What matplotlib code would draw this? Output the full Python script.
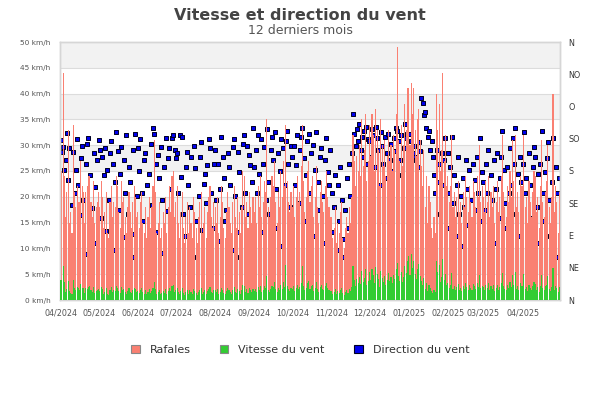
import matplotlib
matplotlib.use("Agg")
import matplotlib.pyplot as plt
import matplotlib.dates as mdates
from matplotlib.patches import Rectangle
import pandas as pd
import numpy as np

# ---------------- data (daily, 04/2024 -> 04/2025) ----------------
raf_2024_04 = [25, 25, 44, 24, 16, 21, 33, 15, 17, 13, 34, 21, 18, 22, 19, 19, 27, 22, 21, 15, 21, 22, 24, 24, 19, 16, 23, 15, 18, 19]
raf_2024_05 = [21, 18, 23, 20, 14, 17, 21, 13, 12, 19, 22, 16, 19, 18, 24, 22, 17, 14, 23, 19, 20, 16, 13, 18, 21, 17, 14, 19, 22, 20, 16]
raf_2024_06 = [17, 14, 19, 21, 15, 13, 18, 12, 16, 20, 14, 18, 22, 31, 21, 13, 15, 19, 12, 14, 17, 15, 20, 13, 18, 22, 17, 24, 25, 16]
raf_2024_07 = [19, 22, 15, 12, 17, 21, 14, 11, 16, 19, 13, 18, 15, 12, 20, 17, 14, 11, 16, 19, 21, 13, 15, 18, 12, 17, 20, 22, 16, 14, 19]
raf_2024_08 = [18, 15, 20, 13, 16, 22, 19, 14, 12, 17, 21, 18, 15, 13, 19, 22, 16, 14, 20, 17, 13, 18, 25, 24, 16, 19, 14, 21, 18, 15, 20]
raf_2024_09 = [17, 20, 15, 22, 18, 24, 16, 19, 23, 21, 35, 18, 16, 20, 24, 22, 27, 19, 15, 21, 18, 25, 20, 27, 22, 34, 23, 19, 17, 21]
raf_2024_10 = [18, 22, 16, 20, 24, 19, 21, 26, 34, 23, 17, 20, 25, 27, 19, 22, 24, 16, 20, 26, 18, 15, 21, 23, 19, 17, 22, 25, 20, 18, 16]
raf_2024_11 = [16, 12, 14, 18, 11, 15, 13, 17, 19, 12, 10, 14, 16, 13, 18, 15, 20, 32, 27, 22, 28, 25, 30, 24, 35, 26, 29, 36, 23, 27]
raf_2024_12 = [34, 28, 36, 32, 25, 37, 33, 29, 22, 35, 30, 26, 31, 24, 28, 33, 27, 30, 25, 32, 29, 36, 49, 31, 27, 34, 26, 30, 38, 33, 41]
raf_2025_01 = [41, 30, 42, 36, 41, 33, 28, 35, 37, 31, 26, 22, 29, 18, 24, 15, 22, 19, 14, 12, 16, 13, 40, 33, 38, 25, 29, 44, 27, 32, 22]
raf_2025_02 = [24, 19, 22, 32, 18, 21, 16, 20, 23, 17, 19, 15, 21, 18, 24, 20, 17, 22, 19, 16, 23, 21, 18, 24, 20, 30, 19, 22]
raf_2025_03 = [20, 17, 23, 19, 24, 16, 21, 18, 22, 15, 19, 23, 17, 20, 24, 32, 21, 18, 16, 22, 19, 25, 20, 31, 23, 32, 18, 21, 17, 24, 22]
raf_2025_04 = [22, 32, 18, 20, 15, 23, 19, 16, 21, 25, 24, 17, 20, 14, 22, 31, 19, 16, 21, 23, 30, 18, 15, 20, 40, 17, 22, 19, 13, 21]

vit_2024_04 = [3.9, 3.8, 6.6, 3.5, 1.6, 2.2, 3.6, 1.8, 1.4, 1.2, 3.9, 2.4, 1.9, 2.5, 2.3, 2.0, 3.1, 2.3, 2.4, 1.3, 2.3, 2.1, 2.6, 2.8, 1.9, 1.6, 2.5, 1.4, 1.7, 2.0]
vit_2024_05 = [2.2, 1.8, 2.6, 2.1, 1.2, 1.6, 2.4, 1.1, 1.0, 2.0, 2.5, 1.5, 2.0, 1.8, 2.7, 2.4, 1.7, 1.3, 2.6, 2.0, 2.2, 1.5, 1.2, 1.8, 2.3, 1.6, 1.3, 1.9, 2.4, 2.1, 1.5]
vit_2024_06 = [1.7, 1.3, 2.0, 2.3, 1.5, 1.2, 1.9, 1.1, 1.6, 2.1, 1.3, 1.8, 2.4, 3.4, 2.2, 1.2, 1.5, 2.0, 1.1, 1.3, 1.7, 1.4, 2.1, 1.2, 1.8, 2.4, 1.7, 2.7, 2.9, 1.6]
vit_2024_07 = [2.0, 2.4, 1.5, 1.1, 1.7, 2.3, 1.3, 1.0, 1.6, 2.0, 1.2, 1.9, 1.5, 1.1, 2.2, 1.7, 1.4, 1.0, 1.6, 2.0, 2.3, 1.2, 1.5, 1.9, 1.1, 1.7, 2.2, 2.5, 1.6, 1.4, 2.0]
vit_2024_08 = [1.9, 1.5, 2.2, 1.2, 1.6, 2.4, 2.0, 1.3, 1.1, 1.7, 2.3, 1.9, 1.5, 1.2, 2.0, 2.5, 1.6, 1.3, 2.2, 1.8, 1.2, 1.9, 3.0, 2.8, 1.6, 2.1, 1.3, 2.3, 1.9, 1.5, 2.2]
vit_2024_09 = [1.8, 2.2, 1.5, 2.5, 1.9, 2.8, 1.6, 2.0, 2.7, 2.3, 4.6, 1.9, 1.6, 2.2, 2.8, 2.5, 3.4, 2.1, 1.5, 2.4, 1.9, 3.0, 2.2, 3.5, 2.6, 6.7, 2.8, 2.1, 1.8, 2.4]
vit_2024_10 = [2.1, 2.7, 1.7, 2.3, 3.0, 2.2, 2.5, 3.3, 6.6, 2.8, 1.9, 2.3, 3.2, 3.6, 2.2, 2.7, 3.0, 1.8, 2.4, 3.4, 2.1, 1.6, 2.6, 2.9, 2.2, 1.9, 2.7, 3.2, 2.4, 2.0, 1.8]
vit_2024_11 = [1.8, 1.2, 1.5, 2.1, 1.1, 1.7, 1.4, 2.0, 2.3, 1.3, 1.0, 1.6, 1.9, 1.4, 2.2, 1.7, 2.5, 6.5, 3.8, 2.8, 4.0, 3.3, 4.5, 3.1, 5.6, 3.5, 4.2, 6.0, 2.9, 3.7]
vit_2024_12 = [5.4, 3.9, 6.1, 4.8, 3.2, 6.3, 5.0, 4.0, 2.6, 5.7, 4.3, 3.4, 4.6, 3.0, 3.9, 5.2, 3.6, 4.4, 3.2, 4.9, 4.1, 6.0, 7.2, 4.7, 3.7, 5.5, 3.4, 4.4, 6.5, 5.3, 7.5]
vit_2025_01 = [8.5, 4.8, 8.9, 6.2, 7.6, 5.1, 4.0, 6.0, 6.9, 4.7, 3.6, 2.9, 4.3, 2.2, 3.3, 1.8, 3.0, 2.4, 1.7, 1.4, 2.0, 1.6, 7.5, 5.4, 6.8, 3.5, 4.4, 7.9, 3.8, 5.0, 2.9]
vit_2025_02 = [3.2, 2.3, 2.9, 5.3, 2.2, 2.7, 1.9, 2.5, 3.1, 2.0, 2.4, 1.8, 2.7, 2.2, 3.3, 2.5, 2.0, 2.9, 2.3, 1.9, 3.1, 2.7, 2.2, 3.2, 2.5, 4.8, 2.3, 2.8]
vit_2025_03 = [2.5, 2.0, 3.0, 2.3, 3.2, 1.9, 2.7, 2.2, 2.9, 1.8, 2.4, 3.0, 2.0, 2.5, 3.3, 5.2, 2.7, 2.2, 1.9, 2.9, 2.4, 3.4, 2.5, 4.9, 3.0, 5.5, 2.2, 2.7, 2.0, 3.2, 2.8]
vit_2025_04 = [2.8, 5.1, 2.2, 2.5, 1.8, 3.0, 2.4, 1.9, 2.7, 3.4, 3.1, 2.0, 2.6, 1.6, 2.8, 4.9, 2.3, 1.9, 2.7, 3.0, 4.6, 2.2, 1.8, 2.5, 6.2, 2.0, 2.8, 2.3, 1.5, 2.6]

dir_2024_04 = [223, 207, 213, 182, 196, 233, 168, 212, 85, 133, 206, 150, 182, 225, 160, 118, 198, 215, 140, 64, 190, 218, 226, 175, 100, 128, 205, 158, 80, 196]
dir_2024_05 = [223, 210, 115, 200, 175, 212, 96, 182, 140, 205, 222, 190, 70, 165, 235, 208, 126, 176, 213, 88, 196, 150, 230, 120, 186, 164, 60, 210, 92, 232, 145]
dir_2024_06 = [212, 180, 225, 150, 110, 195, 205, 160, 75, 176, 218, 133, 240, 232, 190, 95, 202, 170, 214, 140, 65, 186, 226, 124, 198, 212, 155, 226, 230, 210]
dir_2024_07 = [198, 205, 150, 230, 172, 228, 120, 90, 185, 207, 160, 130, 200, 78, 215, 184, 110, 60, 145, 200, 220, 98, 162, 176, 135, 188, 225, 212, 150, 100, 190]
dir_2024_08 = [210, 140, 190, 82, 155, 228, 200, 170, 110, 125, 205, 185, 160, 70, 213, 225, 145, 95, 206, 178, 60, 130, 218, 230, 150, 215, 120, 202, 188, 165, 240]
dir_2024_09 = [185, 210, 150, 230, 176, 225, 95, 190, 213, 140, 238, 165, 120, 210, 228, 196, 235, 155, 100, 205, 180, 225, 75, 212, 160, 222, 236, 190, 130, 215]
dir_2024_10 = [200, 215, 160, 188, 230, 135, 210, 228, 240, 198, 110, 175, 222, 232, 150, 205, 216, 90, 182, 235, 165, 125, 200, 212, 145, 80, 195, 226, 178, 160, 210]
dir_2024_11 = [150, 95, 130, 175, 70, 160, 110, 185, 140, 85, 60, 125, 170, 100, 190, 145, 205, 260, 232, 215, 238, 222, 245, 210, 228, 200, 236, 242, 190, 225]
dir_2024_12 = [222, 200, 238, 230, 185, 242, 226, 210, 160, 235, 215, 190, 228, 170, 205, 232, 196, 218, 180, 226, 208, 240, 236, 222, 195, 230, 175, 212, 245, 226, 232]
dir_2025_01 = [232, 210, 222, 205, 215, 200, 195, 185, 220, 208, 282, 275, 258, 262, 240, 228, 236, 210, 222, 200, 175, 150, 210, 165, 190, 120, 205, 160, 195, 226, 100]
dir_2025_02 = [205, 150, 185, 228, 135, 175, 90, 160, 200, 120, 145, 75, 170, 130, 196, 155, 105, 182, 140, 65, 190, 168, 125, 200, 150, 226, 110, 178]
dir_2025_03 = [165, 125, 190, 150, 210, 95, 175, 140, 196, 80, 155, 205, 115, 170, 200, 236, 182, 135, 100, 186, 150, 212, 160, 226, 190, 240, 120, 176, 90, 200, 165]
dir_2025_04 = [190, 235, 150, 170, 95, 205, 160, 115, 185, 214, 200, 130, 176, 80, 190, 236, 150, 110, 178, 198, 220, 140, 90, 165, 226, 120, 185, 150, 60, 170]

speed_ticks = [0, 5, 10, 15, 20, 25, 30, 35, 40, 45, 50]
speed_labels = [f"{v} km/h" for v in speed_ticks]
dir_ticks = [0, 45, 90, 135, 180, 225, 270, 315, 360]
dir_labels = ["N", "NE", "E", "SE", "S", "SO", "O", "NO", "N"]

rafales = (raf_2024_04 + raf_2024_05 + raf_2024_06 + raf_2024_07 + raf_2024_08 + raf_2024_09 +
           raf_2024_10 + raf_2024_11 + raf_2024_12 + raf_2025_01 + raf_2025_02 + raf_2025_03 + raf_2025_04)
vitesse = (vit_2024_04 + vit_2024_05 + vit_2024_06 + vit_2024_07 + vit_2024_08 + vit_2024_09 +
           vit_2024_10 + vit_2024_11 + vit_2024_12 + vit_2025_01 + vit_2025_02 + vit_2025_03 + vit_2025_04)
direction = (dir_2024_04 + dir_2024_05 + dir_2024_06 + dir_2024_07 + dir_2024_08 + dir_2024_09 +
             dir_2024_10 + dir_2024_11 + dir_2024_12 + dir_2025_01 + dir_2025_02 + dir_2025_03 + dir_2025_04)

dates = pd.date_range("2024-04-01", "2025-04-30", freq="D")
x = mdates.date2num(dates.to_pydatetime())

# ---------------- figure ----------------
fig = plt.figure(figsize=(6, 4), dpi=100)
fig.patch.set_facecolor("white")
ax = fig.add_axes([0.1, 0.25, 0.8333, 0.645])   # direction axis (bottom layer)
ax2 = ax.twinx()                                  # speed axis (top layer)

# alternating bands and grid (in axes fraction, from speed ticks)
for i in range(len(speed_ticks) - 1):
    y0 = speed_ticks[i] / speed_ticks[-1]
    h = (speed_ticks[i + 1] - speed_ticks[i]) / speed_ticks[-1]
    if i % 2 == 1:
        ax.add_patch(Rectangle((0, y0), 1, h, transform=ax.transAxes,
                               facecolor="#f2f2f2", edgecolor="none", zorder=0))
for v in speed_ticks[1:-1]:
    ax.plot([0, 1], [v / speed_ticks[-1]] * 2, transform=ax.transAxes,
            color="#dcdcdc", lw=0.8, zorder=0.5)

# direction scatter (behind the bars)
ax.scatter(x, direction, marker="s", s=12, facecolor="#0000ee",
           edgecolor="#000022", linewidths=0.7, zorder=2)
ax.set_ylim(0, 360)
ax.yaxis.tick_right()
ax.set_yticks(dir_ticks)
ax.set_yticklabels(dir_labels, fontsize=5.8, color="#333333")
ax.tick_params(axis="y", length=0, pad=6)

# bars
ax2.bar(x, rafales, width=0.85, color="#fa8072", linewidth=0, zorder=2)
ax2.bar(x, vitesse, width=0.85, color="#33cc33", linewidth=0, zorder=3)
ax2.set_ylim(0, 50)
ax2.yaxis.tick_left()
ax2.set_yticks(speed_ticks)
ax2.set_yticklabels(speed_labels, fontsize=5.3, color="#555555")
ax2.tick_params(axis="y", length=0, pad=7)

ax.set_xlim(x[0] - 0.5, x[-1] + 0.5)
ax2.set_xlim(x[0] - 0.5, x[-1] + 0.5)
ax.xaxis.set_major_locator(mdates.MonthLocator())
ax.xaxis.set_major_formatter(mdates.DateFormatter("%m/%Y"))
ax.tick_params(axis="x", length=0, pad=6, labelsize=5.8, labelcolor="#555555")

for a in (ax, ax2):
    for s in a.spines.values():
        s.set_color("#d6d6d6")
        s.set_linewidth(1.0)

fig.text(0.5, 0.962, "Vitesse et direction du vent", ha="center", va="center",
         fontsize=11.5, fontweight="bold", color="#444444")
fig.text(0.5, 0.925, "12 derniers mois", ha="center", va="center",
         fontsize=9, color="#555555")

handles = [Rectangle((0, 0), 1, 1, facecolor="#fa8072", edgecolor="#888888", lw=0.8),
           Rectangle((0, 0), 1, 1, facecolor="#33cc33", edgecolor="#888888", lw=0.8),
           Rectangle((0, 0), 1, 1, facecolor="#0000ee", edgecolor="#000022", lw=0.8)]
fig.legend(handles, ["Rafales", "Vitesse du vent", "Direction du vent"],
           loc="center", bbox_to_anchor=(0.5, 0.125), ncol=3, frameon=False,
           fontsize=8, handlelength=0.8, handleheight=0.8, handletextpad=0.9,
           columnspacing=2.6, labelcolor="#333333")

fig.savefig("out.png", dpi=100)
